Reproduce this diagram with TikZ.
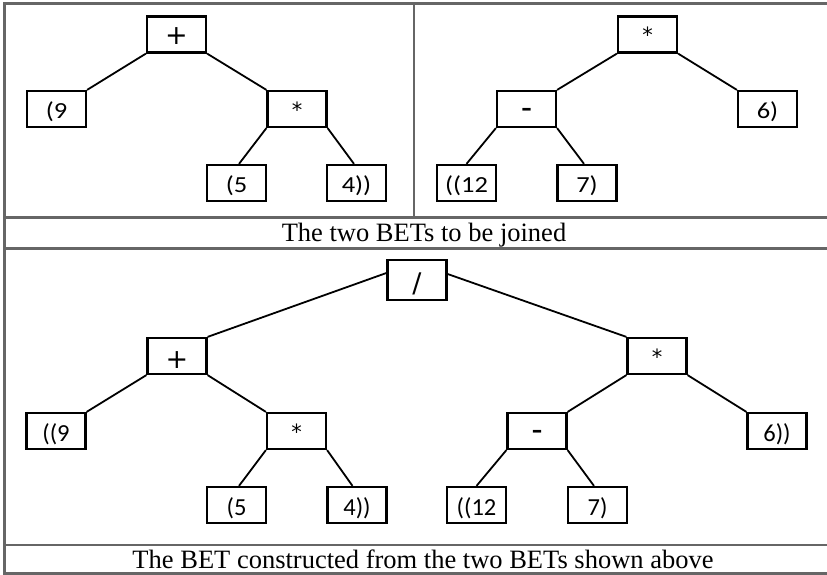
\documentclass[tikz,border=0pt]{standalone}
\usepackage{fontspec}
\setmainfont{Liberation Serif}
\newfontfamily\topfont[FakeStretch=1.15]{Carlito}
\newfontfamily\botfont{Carlito}
\newfontfamily\opfont{DejaVu Sans}
\newcommand{\bigplus}{{\opfont\fontsize{27}{27}\selectfont +}}
\newcommand{\bigslash}{{\opfont\fontsize{27}{27}\selectfont /}}
\newcommand{\opstar}{{\opfont\fontsize{21}{21}\selectfont *}}
\newcommand{\opminus}{{\opfont\bfseries\fontsize{21}{21}\selectfont \textendash}}
\begin{document}
\begin{tikzpicture}[x=1pt,y=-1pt,
  bx/.style={draw, line width=2.2pt, minimum width=59pt, minimum height=36pt, inner sep=0pt,
             text height=19pt, text depth=0pt, font=\topfont\fontsize{23}{23}\selectfont},
  bb/.style={bx, font=\botfont\fontsize{24.5}{24.5}\selectfont, text height=21pt},
  stbox/.style={text height=17pt},
  mnbox/.style={text height=13pt},
  ed/.style={line width=1.8pt},
  fr/.style={draw=black!60, line width=2.2pt},
  captext/.style={font=\fontsize{26.5}{26.5}\selectfont, anchor=base, inner sep=0pt}]
\useasboundingbox (0,0) rectangle (827,575);
% frame
\draw[fr] (827,3.5) -- (4.5,3.5) -- (4.5,573.5) -- (827,573.5);
\draw[fr] (4.5,217.5) -- (827,217.5);
\draw[fr] (4.5,248.5) -- (827,248.5);
\draw[fr] (4.5,545) -- (827,545);
\draw[fr] (414,3.5) -- (414,217.5);
% captions
\node[captext] (capA) at (424,241) {The two BETs to be joined};
\node[captext] (capB) at (423,568) {The BET constructed from the two BETs shown above};
% top-left tree
\node[bx, text height=21pt] (plusA) at (176.5,34.5) {\bigplus};
\node[bx] (nineA) at (56.5,109) {(9};
\node[bx, stbox] (starA) at (297,109) {\opstar};
\node[bx] (fiveA) at (236.5,183) {(5};
\node[bx] (fourA) at (356.5,183) {4))};
\draw[ed] (plusA.south west) -- (nineA.north east);
\draw[ed] (plusA.south east) -- (starA.north west);
\draw[ed] (starA.south west) -- ([xshift=2.5pt]fiveA.north);
\draw[ed] (starA.south east) -- ([xshift=-2.5pt]fourA.north);
% top-right tree
\node[bx, stbox] (starB) at (647.5,34.5) {\opstar};
\node[bx, mnbox] (minusB) at (526.5,109) {\opminus};
\node[bx] (sixB) at (767.5,109) {6)};
\node[bx] (twelveB) at (466.5,183) {((12};
\node[bx] (sevenB) at (587,183) {7)};
\draw[ed] (starB.south west) -- (minusB.north east);
\draw[ed] (starB.south east) -- (sixB.north west);
\draw[ed] (minusB.south west) -- (twelveB.north);
\draw[ed] (minusB.south east) -- ([xshift=-3pt]sevenB.north);
% bottom tree
\node[bb, minimum height=40pt, text height=24pt] (div) at (417,280) {\bigslash};
\node[bb, text height=24pt] (plusC) at (177,356) {\bigplus};
\node[bb, stbox] (starC) at (657,356) {\opstar};
\node[bb] (nineC) at (56,431) {((9};
\node[bb, stbox] (starD) at (296.5,431) {\opstar};
\node[bb, mnbox] (minusC) at (537,431) {\opminus};
\node[bb] (sixC) at (777,431) {6))};
\node[bb] (fiveC) at (236.5,505) {(5};
\node[bb] (fourC) at (357,505) {4))};
\node[bb] (twelveC) at (476.5,505) {((12};
\node[bb] (sevenC) at (597.5,505) {7)};
\draw[ed] ([yshift=7pt]div.west) -- (plusC.north east);
\draw[ed] ([yshift=6pt]div.east) -- (starC.north west);
\draw[ed] (plusC.south west) -- (nineC.north east);
\draw[ed] (plusC.south east) -- (starD.north west);
\draw[ed] (starD.south west) -- ([xshift=2.5pt]fiveC.north);
\draw[ed] (starD.south east) -- ([xshift=-4.5pt]fourC.north);
\draw[ed] (starC.south west) -- (minusC.north east);
\draw[ed] (starC.south east) -- (sixC.north west);
\draw[ed] (minusC.south west) -- (twelveC.north);
\draw[ed] (minusC.south east) -- ([xshift=-3.5pt]sevenC.north);
\end{tikzpicture}
\end{document}
